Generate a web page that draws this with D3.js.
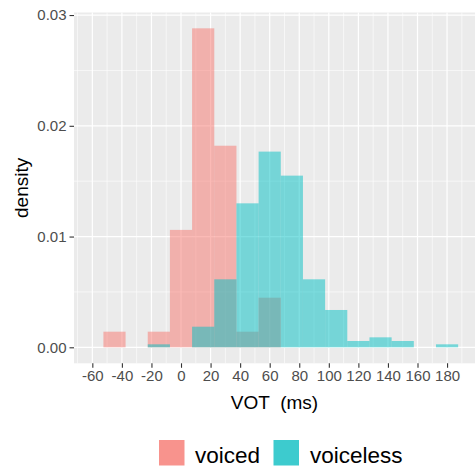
<!DOCTYPE html>
<html>
<head>
<meta charset="utf-8">
<script src="https://cdn.jsdelivr.net/npm/d3@7"></script>
<style>
  html, body { margin: 0; padding: 0; background: #fff; }
  svg { display: block; font-family: "Liberation Sans", Arial, sans-serif; }
</style>
</head>
<body>
<svg id="chart" width="475" height="468"></svg>
<script>
// ---- data ----
const binCenters = [-45, -30, -15, 0, 15, 30, 45, 60, 75, 90, 105, 120, 135, 150, 165, 180];
const binWidth = 15;
const voiced    = [0.00141, 0, 0.00141, 0.0106, 0.0288, 0.0182, 0.00141, 0.00448, 0, 0, 0, 0, 0, 0, 0, 0];
const voiceless = [0, 0, 0.00027, 0, 0.00186, 0.00614, 0.0130, 0.01767, 0.0155, 0.00614, 0.00337, 0.00057, 0.0009, 0.00057, 0, 0.00027];
const groups = ["voiced", "voiceless"];
const xTicks = [-60, -40, -20, 0, 20, 40, 60, 80, 100, 120, 140, 160, 180];
const xTickLabels = ["-60", "-40", "-20", "0", "20", "40", "60", "80", "100", "120", "140", "160", "180"];
const yTicks = [0, 0.01, 0.02, 0.03];
const yTickLabels = ["0.00", "0.01", "0.02", "0.03"];
const xTitle = "VOT  (ms)";
const yTitle = "density";

// ---- layout ----
const panel = { left: 74, right: 475, top: 12.5, bottom: 363.3 };
const svg = d3.select("#chart");

const x = d3.scaleLinear().domain([-72.4, 198.9]).range([panel.left, panel.right]);
const y = d3.scaleLinear().domain([-0.001444, 0.03023]).range([panel.bottom, panel.top]);
const color = d3.scaleOrdinal().domain(groups).range(["#F8766D", "#00BFC4"]);
const keyColor = d3.scaleOrdinal().domain(groups).range(["#F8938D", "#3DCBCE"]);

// panel background
svg.append("rect")
  .attr("x", panel.left).attr("y", panel.top)
  .attr("width", panel.right - panel.left).attr("height", panel.bottom - panel.top)
  .attr("fill", "#EBEBEB");

const grid = svg.append("g");
// minor gridlines
const xMinor = d3.range(-70, 200, 20);
const yMinor = [0.005, 0.015, 0.025];
grid.selectAll(".xminor").data(xMinor).enter().append("line")
  .attr("x1", d => x(d)).attr("x2", d => x(d))
  .attr("y1", panel.top).attr("y2", panel.bottom)
  .attr("stroke", "#fff").attr("stroke-width", 0.6);
grid.selectAll(".yminor").data(yMinor).enter().append("line")
  .attr("x1", panel.left).attr("x2", panel.right)
  .attr("y1", d => y(d)).attr("y2", d => y(d))
  .attr("stroke", "#fff").attr("stroke-width", 0.6);
// major gridlines
grid.selectAll(".xmajor").data(xTicks).enter().append("line")
  .attr("x1", d => x(d)).attr("x2", d => x(d))
  .attr("y1", panel.top).attr("y2", panel.bottom)
  .attr("stroke", "#fff").attr("stroke-width", 1.2);
grid.selectAll(".ymajor").data(yTicks).enter().append("line")
  .attr("x1", panel.left).attr("x2", panel.right)
  .attr("y1", d => y(d)).attr("y2", d => y(d))
  .attr("stroke", "#fff").attr("stroke-width", 1.2);

// bars
const series = { voiced: voiced, voiceless: voiceless };
groups.forEach(g => {
  const data = binCenters.map((c, i) => ({ c, v: series[g][i] })).filter(d => d.v > 0);
  svg.append("g").selectAll("rect").data(data).enter().append("rect")
    .attr("x", d => x(d.c - binWidth / 2))
    .attr("width", d => x(d.c + binWidth / 2) - x(d.c - binWidth / 2))
    .attr("y", d => y(d.v))
    .attr("height", d => y(0) - y(d.v))
    .attr("fill", color(g))
    .attr("fill-opacity", 0.5);
});

// axes
const xAxis = d3.axisBottom(x).tickValues(xTicks).tickSize(4.5).tickPadding(3)
  .tickFormat((d, i) => xTickLabels[i]);
const gx = svg.append("g").attr("transform", `translate(0,${panel.bottom})`).call(xAxis);
gx.select(".domain").remove();
gx.selectAll("line").attr("stroke", "#333").attr("stroke-width", 1.1);
gx.selectAll("text").attr("fill", "#4D4D4D").style("font-size", "15px")
  .style("font-family", "'Liberation Sans', Arial, sans-serif");

const yAxis = d3.axisLeft(y).tickValues(yTicks).tickSize(4.5).tickPadding(3)
  .tickFormat((d, i) => yTickLabels[i]);
const gy = svg.append("g").attr("transform", `translate(${panel.left},0)`).call(yAxis);
gy.select(".domain").remove();
gy.selectAll("line").attr("stroke", "#333").attr("stroke-width", 1.1);
gy.selectAll("text").attr("fill", "#4D4D4D").style("font-size", "15px")
  .style("font-family", "'Liberation Sans', Arial, sans-serif");

// titles
svg.append("text")
  .attr("x", (panel.left + panel.right) / 2).attr("y", 409)
  .attr("text-anchor", "middle").style("font-size", "19px").style("white-space", "pre")
  .attr("fill", "#000")
  .text(xTitle);
svg.append("text")
  .attr("transform", `translate(28,${(panel.top + panel.bottom) / 2}) rotate(-90)`)
  .attr("text-anchor", "middle").style("font-size", "19px").attr("fill", "#000")
  .text(yTitle);

// legend
const legend = svg.append("g");
const legendItems = [
  { g: "voiced", kx: 159, tx: 195 },
  { g: "voiceless", kx: 273.5, tx: 310 }
];
legendItems.forEach(it => {
  legend.append("rect")
    .attr("x", it.kx).attr("y", 440).attr("width", 25.5).attr("height", 25.5)
    .attr("fill", keyColor(it.g));
  legend.append("text")
    .attr("x", it.tx).attr("y", 462.5)
    .style("font-size", "22.5px").attr("fill", "#000")
    .text(it.g);
});
</script>
</body>
</html>
